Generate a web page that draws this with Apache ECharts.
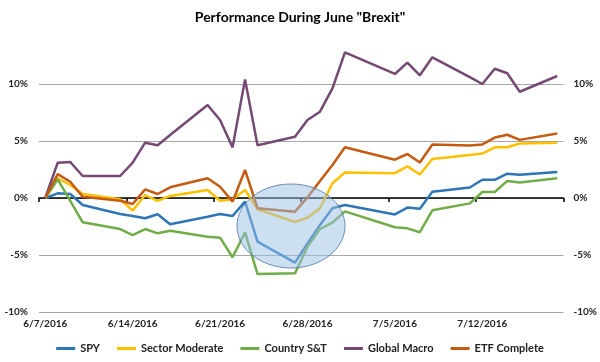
<!DOCTYPE html>
<html>
<head>
<meta charset="utf-8">
<script src="https://cdn.jsdelivr.net/npm/echarts@6/dist/echarts.min.js"></script>
<style>html,body{margin:0;padding:0;background:#fff}#c{width:600px;height:362px}</style>
</head>
<body>
<div id="c"></div>
<script>
const tradingDates = ['6/7/2016','6/8/2016','6/9/2016','6/10/2016','6/13/2016','6/14/2016','6/15/2016','6/16/2016','6/17/2016',
  '6/20/2016','6/21/2016','6/22/2016','6/23/2016','6/24/2016','6/27/2016','6/28/2016','6/29/2016','6/30/2016','7/1/2016',
  '7/5/2016','7/6/2016','7/7/2016','7/8/2016','7/11/2016','7/12/2016','7/13/2016','7/14/2016','7/15/2016','7/18/2016'];
const spy = [0,0.41,0.35,-0.61,-1.4,-1.58,-1.78,-1.43,-2.31,-1.64,-1.4,-1.58,-0.32,-3.83,-5.67,-3.98,-2.37,-0.9,-0.62,-1.44,-0.84,-0.94,0.54,0.92,1.6,1.6,2.13,2.04,2.29];
const sectorModerate = [0,1.73,1.14,0.35,-0.11,-1.11,0.26,-0.26,0.18,0.7,-0.24,-0.11,0.7,-0.99,-2.09,-1.73,-0.9,1.29,2.24,2.18,2.77,2.06,3.42,3.78,3.9,4.45,4.45,4.78,4.84];
const countryST = [0,1.64,-0.25,-2.13,-2.72,-3.25,-2.72,-3.1,-2.87,-3.39,-3.48,-5.2,-3.0,-6.67,-6.61,-4.27,-2.72,-2.16,-1.17,-2.57,-2.66,-3.0,-1.08,-0.47,0.53,0.53,1.5,1.36,1.73];
const globalMacro = [0,3.1,3.16,1.93,1.93,3.1,4.85,4.62,5.53,8.16,6.84,4.44,10.4,4.62,5.38,6.84,7.57,9.62,12.78,10.88,11.87,10.76,12.34,10.6,10.0,11.34,10.94,9.32,10.7];
const etfComplete = [0,2.1,1.43,0.11,-0.24,-0.53,0.76,0.35,0.94,1.73,0.99,-0.32,2.46,-0.9,-1.2,0.05,1.5,2.9,4.45,3.36,3.86,3.12,4.7,4.6,4.7,5.3,5.55,5.1,5.65];
const seriesNames = ['SPY','Sector Moderate','Country S&T','Global Macro','ETF Complete'];
const seriesColors = ['#2e75b6','#ffc000','#70ad47','#754a72','#c55a11'];
const yTicks = [-10,-5,0,5,10,15];

// calendar categories from the first to the last trading date
function parseD(s){const p=s.split('/');return new Date(+p[2],+p[0]-1,+p[1]);}
function fmt(d){return (d.getMonth()+1)+'/'+d.getDate()+'/'+d.getFullYear();}
const cats = [];
for (let d = parseD(tradingDates[0]); d <= parseD(tradingDates[tradingDates.length-1]); d.setDate(d.getDate()+1)) cats.push(fmt(d));

const allData = [spy, sectorModerate, countryST, globalMacro, etfComplete];
const FONT = 'Lato';
const chart = echarts.init(document.getElementById('c'), null, {renderer:'canvas'});
chart.setOption({
  animation:false,
  textStyle:{fontFamily:FONT},
  title:{text:'Performance During June "Brexit"', left:'center', top:5,
    textStyle:{fontFamily:FONT, fontSize:14, fontWeight:'bold', color:'#000'}},
  legend:{bottom:3, left:'center', icon:'rect', itemWidth:19, itemHeight:3, itemGap:17,
    data:seriesNames,
    textStyle:{fontFamily:FONT, fontSize:11, fontWeight:'bold', color:'#222'}},
  grid:{left:39, right:36, top:27, bottom:50, containLabel:false},
  xAxis:[
    {type:'category', data:cats, boundaryGap:true, position:'bottom',
      axisLine:{onZero:true, lineStyle:{color:'#000', width:1.5}},
      axisTick:{show:true, interval:6, length:4, lineStyle:{color:'#000', width:1.5}},
      axisLabel:{show:false}, splitLine:{show:false}},
    {type:'category', data:cats, boundaryGap:true, position:'bottom',
      axisLine:{show:false, onZero:false}, axisTick:{show:false},
      axisLabel:{interval:6, margin:7, fontFamily:FONT, fontSize:10, fontWeight:'bold', color:'#222'},
      splitLine:{show:false}}
  ],
  yAxis:[
    {type:'value', min:yTicks[0], max:yTicks[yTicks.length-1], interval:5, position:'left',
      axisLine:{show:false}, axisTick:{show:false},
      axisLabel:{margin:11, fontFamily:FONT, fontSize:10, fontWeight:'bold', color:'#222',
        formatter:v=> v===yTicks[yTicks.length-1] ? '' : v+'%'},
      splitLine:{show:true, showMaxLine:false, lineStyle:{color:'#a6a6a6', width:1}}},
    {type:'value', min:yTicks[0], max:yTicks[yTicks.length-1], interval:5, position:'right',
      axisLine:{show:false}, axisTick:{show:false},
      axisLabel:{margin:10, fontFamily:FONT, fontSize:10, fontWeight:'bold', color:'#222',
        formatter:v=> v===yTicks[yTicks.length-1] ? '' : v+'%'},
      splitLine:{show:false}}
  ],
  series: seriesNames.map((n,i)=>({
    name:n, type:'line', xAxisIndex:0, yAxisIndex:0, symbol:'none', showSymbol:false,
    data: tradingDates.map((d,j)=>[d, allData[i][j]]),
    lineStyle:{color:seriesColors[i], width:2.5}, itemStyle:{color:seriesColors[i]}
  })),
  graphic:[{type:'ellipse', shape:{cx:291, cy:226, rx:54, ry:42}, z:100,
    style:{fill:'rgba(155,194,230,0.5)', stroke:'rgba(70,110,160,0.75)', lineWidth:1}}]
});
</script>
</body>
</html>
